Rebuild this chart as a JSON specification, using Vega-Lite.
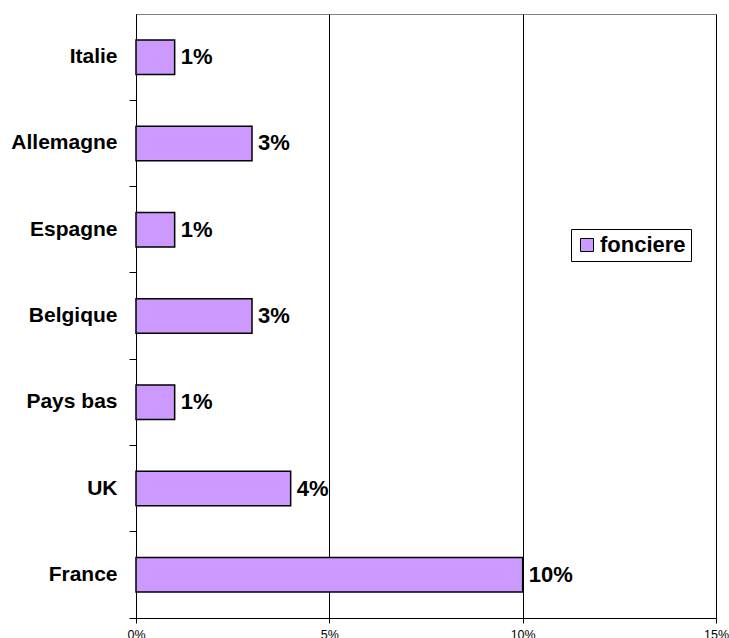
{
  "$schema": "https://vega.github.io/schema/vega-lite/v6.json",
  "width": 580,
  "height": 604,
  "autosize": {"type": "none"},
  "padding": {"left": 136, "top": 14, "right": 13, "bottom": 20},
  "background": "white",
  "config": {
    "view": {"stroke": "#808080", "strokeWidth": 1},
    "font": "Liberation Sans"
  },
  "data": {
    "values": [
      {"pays": "Italie", "valeur": 0.01, "serie": "fonciere"},
      {"pays": "Allemagne", "valeur": 0.03, "serie": "fonciere"},
      {"pays": "Espagne", "valeur": 0.01, "serie": "fonciere"},
      {"pays": "Belgique", "valeur": 0.03, "serie": "fonciere"},
      {"pays": "Pays bas", "valeur": 0.01, "serie": "fonciere"},
      {"pays": "UK", "valeur": 0.04, "serie": "fonciere"},
      {"pays": "France", "valeur": 0.10, "serie": "fonciere"}
    ]
  },
  "encoding": {
    "y": {
      "field": "pays",
      "type": "nominal",
      "sort": null,
      "scale": {"paddingInner": 0.6, "paddingOuter": 0.3},
      "axis": {
        "title": null,
        "domainColor": "black",
        "tickColor": "black",
        "tickSize": 7,
        "bandPosition": 1.75,
        "labelFontSize": 21,
        "labelFontWeight": "bold",
        "labelColor": "black",
        "labelPadding": 12,
        "grid": false
      }
    },
    "x": {
      "field": "valeur",
      "type": "quantitative",
      "scale": {"domain": [0, 0.15], "nice": false},
      "axis": {
        "title": null,
        "values": [0, 0.05, 0.1, 0.15],
        "format": ".0%",
        "domainColor": "black",
        "tickColor": "black",
        "tickSize": 5,
        "labelFontSize": 12.5,
        "labelColor": "black",
        "labelPadding": 5,
        "labelFlush": false,
        "grid": true,
        "gridColor": "black",
        "gridOpacity": 1
      }
    }
  },
  "layer": [
    {
      "mark": {"type": "bar", "stroke": "black", "strokeWidth": 1.5},
      "encoding": {
        "color": {
          "field": "serie",
          "type": "nominal",
          "scale": {"range": ["#CC99FF"]},
          "legend": {
            "title": "\u2003",
            "titleOrient": "right",
            "titleFontSize": 12,
            "titlePadding": 0,
            "orient": "none",
            "legendX": 435,
            "legendY": 215,
            "strokeColor": "black",
            "fillColor": "white",
            "padding": 5,
            "symbolType": "square",
            "symbolSize": 170,
            "symbolStrokeColor": "black",
            "symbolStrokeWidth": 1,
            "labelFontSize": 22,
            "labelFontWeight": "bold",
            "labelColor": "black",
            "labelOffset": 2
          }
        }
      }
    },
    {
      "mark": {"type": "text", "align": "left", "dx": 6, "fontSize": 22, "fontWeight": "bold", "color": "black"},
      "encoding": {
        "text": {"field": "valeur", "type": "quantitative", "format": ".0%"}
      }
    }
  ]
}
